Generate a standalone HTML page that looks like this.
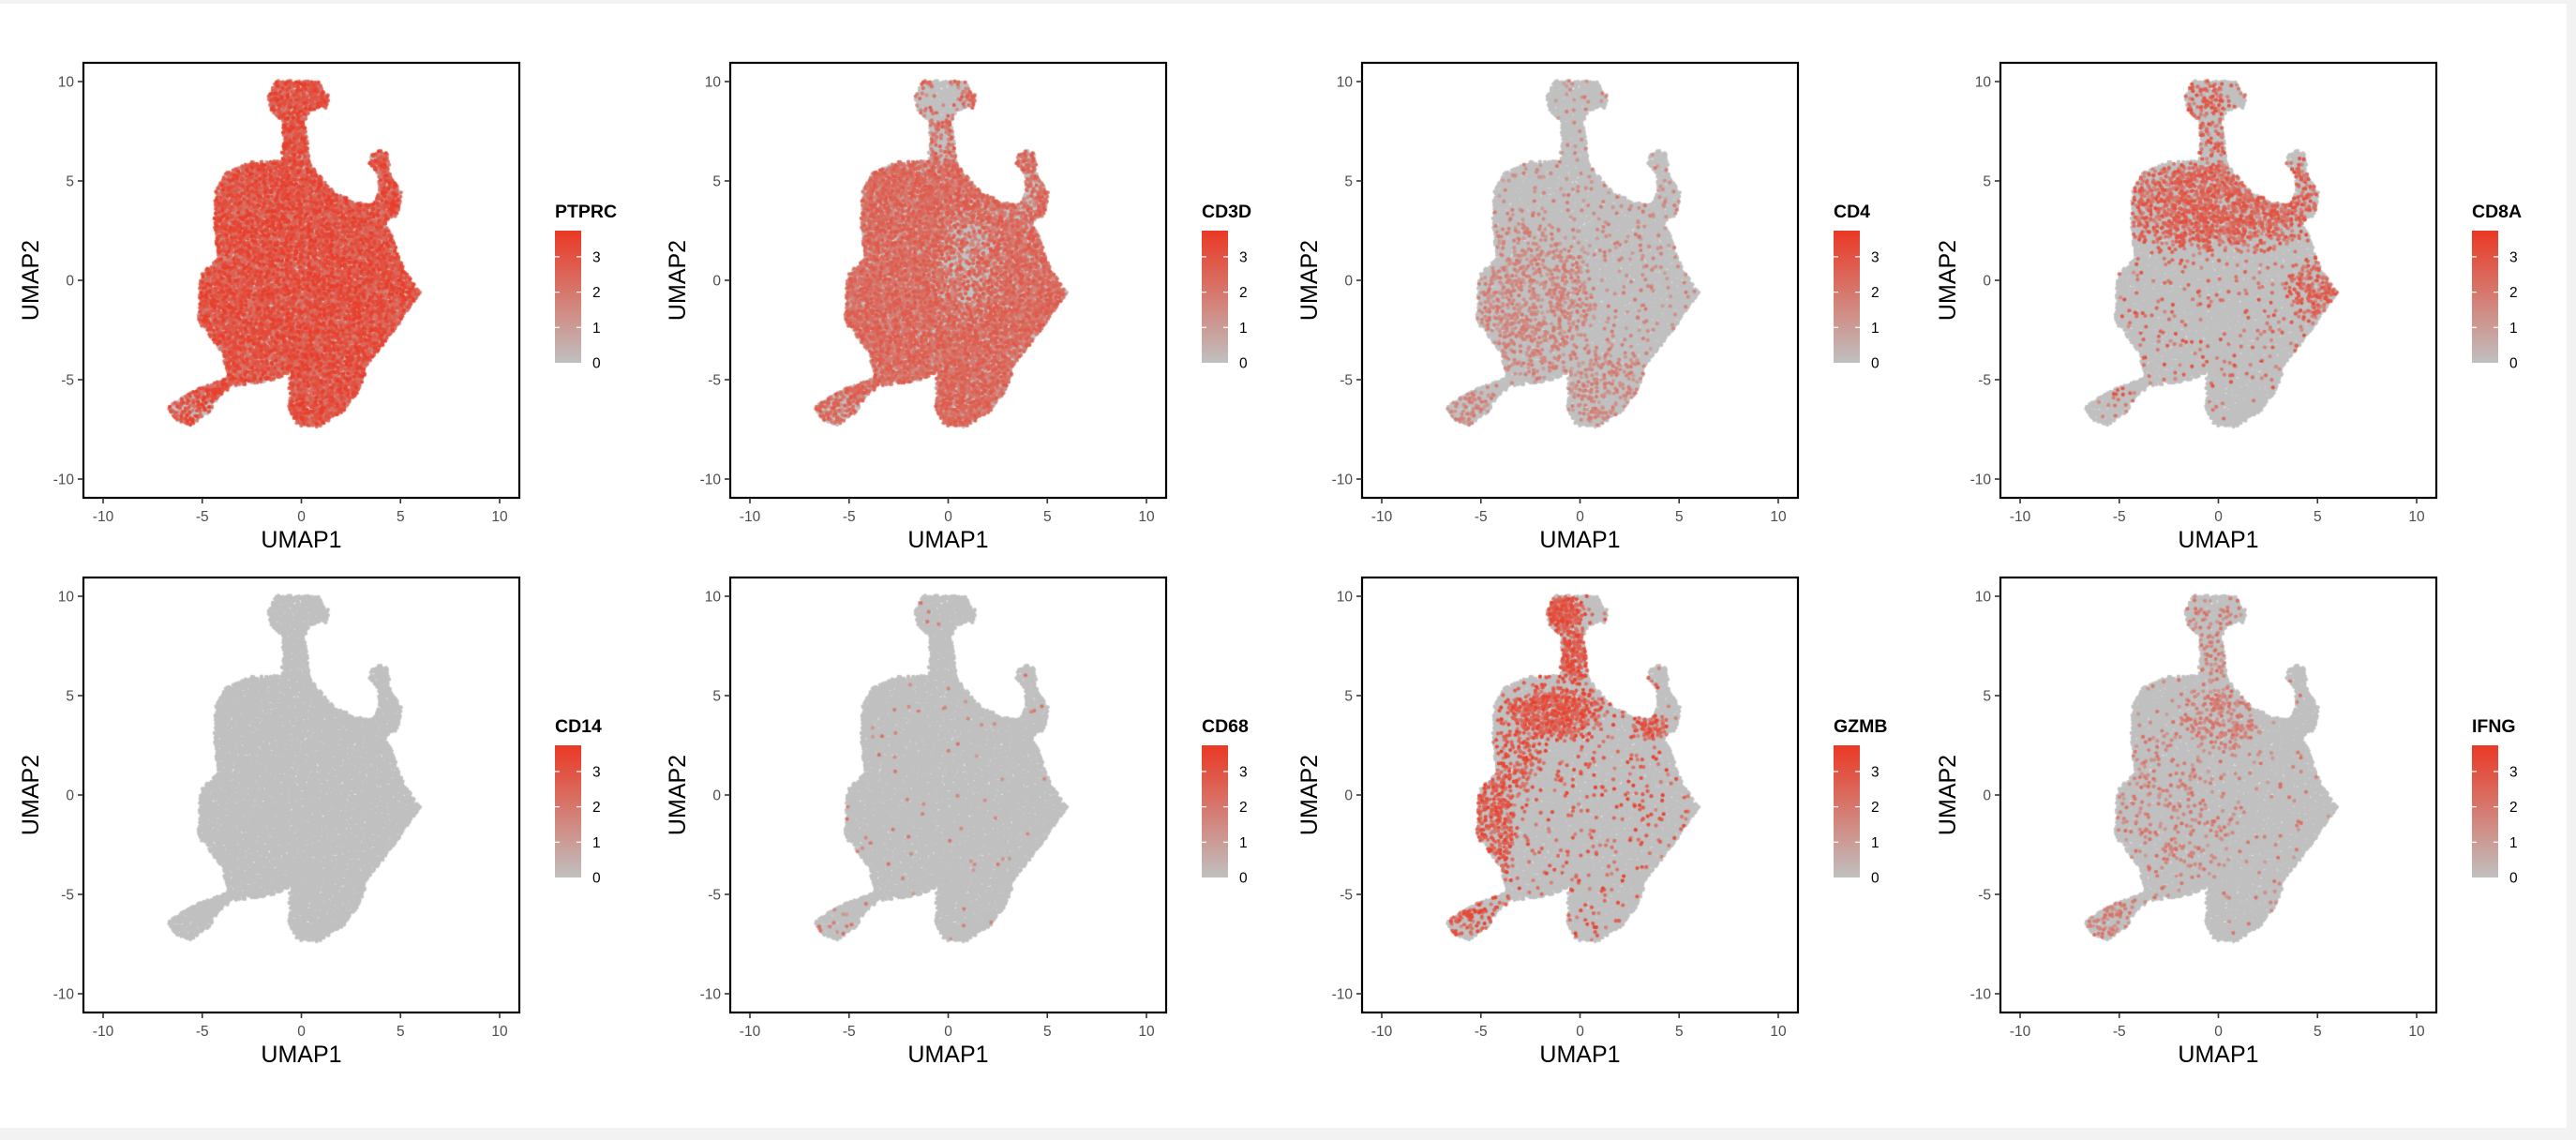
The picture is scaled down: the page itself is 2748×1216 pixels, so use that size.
<!DOCTYPE html>
<html><head><meta charset="utf-8"><style>
html,body{margin:0;padding:0;background:#f2f2f2;}
#root{position:relative;width:2748px;height:1216px;background:#f2f2f2;overflow:hidden;font-family:"Liberation Sans",sans-serif;}
#white{position:absolute;left:0;top:4px;width:2738px;height:1199px;background:#fff;}
canvas{position:absolute;}
svg{position:absolute;left:0;top:0;}
</style></head><body>
<div id="root">
<div id="white"></div>
<svg id="ax" width="2748" height="1216"></svg>
</div>
<script>
// ---- data ----
const genes = ["PTPRC","CD3D","CD4","CD8A","CD14","CD68","GZMB","IFNG"];
const geneBase = [0.96,0.85,0.05,0.04,0,0.008,0.04,0.02];
const geneLevel = [2.9,2.3,1.6,2.5,0,1.8,2.8,1.8];
const xTicks = [-10,-5,0,5,10];
const yTicks = [-10,-5,0,5,10];
const legendTicks = [0,1,2,3];
const colorMax = 3.74;
// cluster outline (UMAP coords)
const outlineX = [-1.26,0.84,1.37,1.37,1.05,0.42,0.21,0.32,0.42,0.84,1.7,2.7,3.6,3.9,3.9,3.4,3.5,4.1,4.4,4.5,5.06,4.85,4.2,4.6,4.95,5.6,6.0,5.27,4.2,3.37,2.95,2.1,0.84,-0.2,-0.63,-0.6,-1.7,-3.4,-4.2,-4.6,-5.6,-6.3,-6.75,-6.2,-5.3,-3.7,-4.0,-5.2,-5.1,-4.2,-4.4,-4.3,-3.9,-3.4,-2.5,-1.0,-0.95,-0.95,-1.48,-1.75];
const outlineY = [10.05,10.0,9.3,8.6,8.7,8.5,8.0,6.7,5.9,5.35,4.4,3.95,3.8,4.4,5.35,5.9,6.4,6.55,6.3,5.2,4.4,3.3,2.9,2.2,1.06,-0.05,-0.6,-1.7,-3.2,-4.2,-5.5,-6.6,-7.4,-7.3,-6.4,-4.7,-5.1,-5.3,-5.9,-6.6,-7.3,-7.1,-6.4,-6.0,-5.5,-4.9,-3.6,-2.1,0.3,1.06,2.9,4.7,5.3,5.65,5.95,6.0,7.0,8.0,8.5,9.1];
// expression zones per gene: [cx, cy, rx, ry, prob]
const zonesPTPRC = [[-5.6,-6.4,1.4,1.0,0.6]];
const zonesCD3D = [[-0.4,9.1,1.5,1.1,0.05],[-0.4,7,0.9,1.3,0.4],[1,1,1.5,2.5,0.45],[-5.6,-6.4,1.4,1.0,0.5],[3.8,4.2,1.2,1.6,0.6]];
const zonesCD4 = [[-2.5,-1,2.8,3.5,0.3],[1,-5.5,2.2,2.0,0.25],[-5.6,-6.4,1.4,1.0,0.3]];
const zonesCD8A = [[0,3.8,4.5,2.0,0.6],[5,-0.5,1.2,1.5,0.45],[-0.4,9.1,1.5,1.1,0.25],[-0.4,7,0.9,1.3,0.3],[3.8,4.2,1.2,1.6,0.4],[-5.6,-6.4,1.4,1.0,0.1]];
const zonesCD14 = [];
const zonesCD68 = [[-5.6,-6.4,1.4,1.0,0.08]];
const zonesGZMB = [[-0.9,9.2,0.9,0.9,0.9],[-0.4,7,0.9,1.3,0.7],[-1.3,4.1,2.3,1.2,0.65],[-4.5,-1.5,1.1,3.7,0.45],[-5.6,-6.4,1.4,1.0,0.4],[3.5,3.5,0.8,0.6,0.55],[-3,2,1,1.5,0.3]];
const zonesIFNG = [[0,3.8,1.8,1.5,0.3],[-0.4,9.1,1.5,1.1,0.15],[-0.4,7,0.9,1.3,0.2],[-2.5,-1,2.8,3.5,0.12],[-5.6,-6.4,1.4,1.0,0.25]];
const geneZones = [zonesPTPRC,zonesCD3D,zonesCD4,zonesCD8A,zonesCD14,zonesCD68,zonesGZMB,zonesIFNG];

// ---- layout ----
const panelLeft = [89,779,1453,2134];
const panelTop = [67,616];
const BW = 465, BH = 464;
const NS = "http://www.w3.org/2000/svg";
const svg = document.getElementById('ax');
const root = document.getElementById('root');
function xs(v,L){return L + BW/2 + v*21.15;}
function ys(v,T){return T + BH/2 - v*21.2;}
function hash(i,s){let h=(i*374761393 + s*668265263)|0;h=(h^(h>>>13))*1274126177|0;h^=h>>>16;return (h>>>0)/4294967296;}
function inPoly(x,y){let c=false;const n=outlineX.length;for(let i=0,j=n-1;i<n;j=i++){const xi=outlineX[i],yi=outlineY[i],xj=outlineX[j],yj=outlineY[j];if(((yi>y)!=(yj>y))&&(x<(xj-xi)*(y-yi)/(yj-yi)+xi))c=!c;}return c;}
function color(v){const t=Math.max(0,Math.min(1,v/colorMax));const a=[192,192,192],b=[234,56,36];return 'rgb('+a.map((c,k)=>Math.round(c+(b[k]-c)*t)).join(',')+')';}
function smooth(d){if(d<0.55)return 1;if(d>1.45)return 0;const t=(d-0.55)/0.9;return 1-t*t*(3-2*t);}
// cell lattice inside outline
const cellX=[],cellY=[];
{let k=0;for(let r=0;r<200;r++){const y=-7.6+r*0.105;if(y>10.2)break;for(let c=0;c<120;c++){const x=-7+c*0.12+(r%2)*0.06;if(x>6.3)break;k++;const jx=x+(hash(k,1)-0.5)*0.1,jy=y+(hash(k,2)-0.5)*0.1;if(inPoly(jx,jy)){cellX.push(jx);cellY.push(jy);}}}}
function el(tag,attrs,parent){const e=document.createElementNS(NS,tag);for(const k in attrs)e.setAttribute(k,attrs[k]);(parent||svg).appendChild(e);return e;}
const defs=el('defs',{});
const grad=el('linearGradient',{id:'cg',x1:0,y1:1,x2:0,y2:0},defs);
for(let s=0;s<=10;s++){el('stop',{offset:(s/10),'stop-color':color(colorMax*s/10)},grad);}

genes.forEach((g,gi)=>{
  const L=panelLeft[gi%4], T=panelTop[Math.floor(gi/4)];
  const cv=document.createElement('canvas');
  cv.width=BW;cv.height=BH;cv.style.left=L+'px';cv.style.top=T+'px';
  
  
  root.insertBefore(cv,svg);
  const ctx=cv.getContext('2d');
  const base=geneBase[gi];
  const vals=cellX.map((x,i)=>{const y=cellY[i];let p=base;
    for(const z of geneZones[gi]){const dx=(x-z[0])/z[2],dy=(y-z[1])/z[3];const f=smooth(Math.sqrt(dx*dx+dy*dy));const q=base+(z[4]-base)*f;
      if(z[4]>=base)p=Math.max(p,q);else p=Math.min(p,q);}
    return hash(i,gi+10)<p? Math.min(3.7,geneLevel[gi]*(0.55+0.7*hash(i,gi+30))):0;});
  const order=vals.map((v,i)=>i).sort((a,b)=>vals[a]-vals[b]);
  for(const i of order){ctx.fillStyle=color(vals[i]);ctx.beginPath();ctx.arc(xs(cellX[i],0),ys(cellY[i],0),2.1,0,6.2832);ctx.fill();}
  const grp=el('g',{});
  
  
  const box=el('rect',{x:L,y:T,width:BW,height:BH,fill:'none',stroke:'#000','stroke-width':2.2},grp);
  
  
  xTicks.forEach(t=>{const x=xs(t,L);el('line',{x1:x,x2:x,y1:T+BH,y2:T+BH+6,stroke:'#333','stroke-width':1.6},grp);
    const tx=el('text',{x:x,y:T+BH+25,'text-anchor':'middle','font-size':15.5,fill:'#4d4d4d'},grp);tx.textContent=t;
    
    });
  yTicks.forEach(t=>{const y=ys(t,T);el('line',{x1:L-6,x2:L,y1:y,y2:y,stroke:'#333','stroke-width':1.6},grp);
    const tx=el('text',{x:L-10,y:y+5.5,'text-anchor':'end','font-size':15.5,fill:'#4d4d4d'},grp);tx.textContent=t;
    
    });
  const xt=el('text',{x:L+BW/2,y:T+BH+53,'text-anchor':'middle','font-size':25,fill:'#000'},grp);xt.textContent='UMAP1';
  
  
  const yt=el('text',{x:0,y:0,'text-anchor':'middle','font-size':25,fill:'#000',transform:'translate('+(L-48)+','+(T+BH/2)+') rotate(-90)'},grp);yt.textContent='UMAP2';
  
  
  const lx=L+503, top=T+179, bot=T+320;
  const lg=el('g',{},grp);
  
  
  const lt=el('text',{x:lx,y:T+165,'font-size':19.5,'font-weight':'bold',fill:'#000'},lg);lt.textContent=g;
  
  
  const bar=el('rect',{x:lx,y:top,width:28,height:bot-top,fill:'url(#cg)'},lg);
  
  
  const per=(bot-top)/colorMax;
  legendTicks.forEach(t=>{const y=bot-t*per;
    if(t>0){el('line',{x1:lx,x2:lx+5,y1:y,y2:y,stroke:'#fff','stroke-width':1.2},lg);el('line',{x1:lx+23,x2:lx+28,y1:y,y2:y,stroke:'#fff','stroke-width':1.2},lg);}
    const tx=el('text',{x:lx+40,y:y+5.5,'font-size':15.5,fill:'#000'},lg);tx.textContent=t;
    
    });
});
</script>
</body></html>
